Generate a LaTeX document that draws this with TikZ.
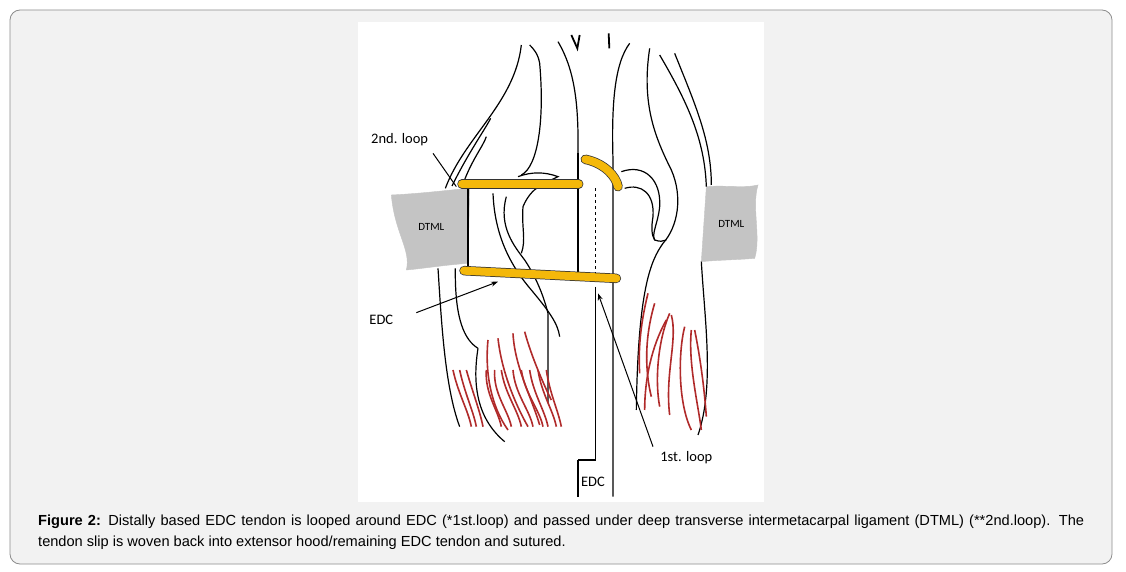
\documentclass[tikz,border=0pt]{standalone}
\usetikzlibrary{arrows.meta}
\usepackage{fontspec}
\setmainfont{Liberation Sans}
\newfontfamily\lblfont{Carlito}
\definecolor{tyel}{HTML}{F4B80A}
\definecolor{tred}{HTML}{B02A2A}
\definecolor{dgrey}{HTML}{C4C4C4}
\begin{document}
\begin{tikzpicture}[x=1pt,y=-1pt,
  skin/.style={line width=1.2pt,black},
  strand/.style={line width=1.6pt,tred},
  bar/.style={line width=8pt,tyel,line cap=round},
  barout/.style={line width=9.5pt,black!80,line cap=round},
  lbl/.style={font=\lblfont\fontsize{14.5}{14.5}\selectfont,inner sep=1pt},
  arr/.style={line width=1pt,-{Stealth[length=7pt,width=5pt]}}]
\useasboundingbox (0,0) rectangle (1126,572);
\draw[rounded corners=10pt,fill=black!5,draw=black!45,line width=0.8pt] (10,10) rectangle (1112,564);
\fill[white] (358,22) rectangle (764,502);
\begin{scope}[shift={(358pt,-20pt)},x=0.33333pt,y=-0.33333pt]
% DTML blocks
\filldraw[fill=dgrey,draw=dgrey] (100,525) .. controls (200,520) and (270,510) .. (335,505) -- (330,730) .. controls (260,735) and (200,745) .. (145,750) .. controls (160,690) and (110,640) .. (100,525) -- cycle;
\filldraw[fill=dgrey,draw=dgrey] (1045,500) .. controls (1100,495) and (1160,505) .. (1200,495) .. controls (1180,560) and (1210,650) .. (1190,715) .. controls (1130,720) and (1080,720) .. (1030,725) -- cycle;
% top marks
\draw[line width=1.8pt] (640,45) -- (658,85) -- (665,45);
\draw[line width=1.8pt] (752,40) -- (754,85);
% left finger
\draw[skin] (262,505) .. controls (320,350) and (470,250) .. (490,75);
\draw[skin] (282,498) .. controls (330,400) and (380,330) .. (398,295);
\draw[skin] (312,500) .. controls (340,420) and (375,380) .. (385,350);
\draw[skin] (490,465) .. controls (540,440) and (560,300) .. (545,130) .. controls (540,100) and (525,85) .. (515,75);
\draw[skin] (240,745) .. controls (250,900) and (260,1100) .. (305,1220);
\draw[skin] (292,745) .. controls (290,900) and (320,960) .. (360,985);
\draw[skin] (360,985) .. controls (345,1080) and (350,1190) .. (440,1265);
\draw[skin] (405,520) .. controls (410,650) and (460,740) .. (520,810) .. controls (570,870) and (600,910) .. (605,950);
\draw[skin] (445,530) .. controls (420,620) and (470,680) .. (500,720) .. controls (540,780) and (560,840) .. (570,880) -- (570,1150);
\draw[skin] (480,470) .. controls (520,455) and (560,455) .. (600,470) .. controls (560,490) and (520,500) .. (495,560) .. controls (490,620) and (505,660) .. (490,700);
\draw[skin] (330,505) -- (330,740);
% centre finger
\draw[skin] (600,65) .. controls (650,150) and (662,250) .. (660,400);
\draw[skin] (660,400) -- (660,760);
\draw[skin] (660,1320) -- (660,1430);
\draw[skin] (712,800) -- (712,1320) -- (660,1320);
\draw[skin,dashed,line width=1.3pt] (712,505) -- (712,760);
\draw[skin] (815,70) .. controls (770,130) and (760,250) .. (765,420) -- (765,1430);
% right finger
\draw[skin] (875,85) .. controls (850,250) and (890,350) .. (940,450) .. controls (975,530) and (960,620) .. (915,670) .. controls (880,720) and (840,800) .. (835,1170);
\draw[skin] (905,105) .. controls (990,250) and (1040,360) .. (1045,500);
\draw[skin] (950,100) .. controls (1010,250) and (1060,360) .. (1060,495);
\draw[skin] (1030,725) .. controls (1040,900) and (1070,1100) .. (1020,1245);
\draw[skin] (790,455) .. controls (860,430) and (910,480) .. (905,560) .. controls (900,610) and (880,640) .. (890,660) .. controls (905,665) and (915,665) .. (925,660);
\draw[skin] (800,505) .. controls (850,490) and (890,520) .. (885,590) .. controls (880,620) and (880,645) .. (890,660);
% yellow loops
\draw[barout] (312,492) -- (662,492);
\draw[bar] (312,492) -- (662,492);
\draw[line width=9.5pt,black!80,line cap=round] (682,418) .. controls (740,430) and (775,470) .. (780,500);
\draw[line width=8pt,tyel,line cap=round] (682,418) .. controls (740,430) and (775,470) .. (780,500);
\draw[barout] (318,752) -- (775,775);
\draw[bar] (318,752) -- (775,775);
\draw[black!80,line width=1pt] (660,505) -- (330,505);
% red strands left
\foreach \a/\b/\c in {285/300/330,305/320/345,325/345/365,385/380/420,410/405/450,430/440/480,465/470/515,490/500/545,515/525/560,540/550/585,565/575/600}{
  \draw[strand] (\a,1050) .. controls (\b,1120) and (\c,1170) .. (\c+10,1220);}
\draw[strand] (390,960) .. controls (380,1060) and (400,1160) .. (450,1230);
\draw[strand] (420,955) .. controls (430,1050) and (470,1150) .. (510,1220);
\draw[strand] (465,940) .. controls (470,1040) and (520,1130) .. (545,1215);
\draw[strand] (500,935) .. controls (520,1010) and (560,1100) .. (580,1140);
% red strands right
\draw[strand] (870,820) .. controls (850,900) and (840,980) .. (845,1060);
\draw[strand] (890,850) .. controls (860,950) and (860,1050) .. (880,1130);
\draw[strand] (935,880) .. controls (900,960) and (890,1080) .. (905,1160);
\draw[strand] (940,885) .. controls (960,960) and (920,1060) .. (935,1185);
\draw[strand] (980,920) .. controls (960,1000) and (960,1150) .. (1000,1230);
\draw[strand] (1000,930) .. controls (990,1030) and (1020,1150) .. (1030,1230);
\draw[strand] (925,900) .. controls (880,980) and (860,1080) .. (860,1170);
\draw[strand] (1010,930) .. controls (1030,1030) and (1040,1120) .. (1045,1190);
% labels
\node[lbl] (l2) at (125,360) {2nd. loop};
\node[lbl] (le) at (70,900) {EDC};
\node[lbl] (l1) at (985,1312) {1st. loop};
\node[lbl] (le2) at (705,1385) {EDC};
\node[lbl,font=\lblfont\fontsize{11}{11}\selectfont] (dl) at (220,620) {DTML};
\node[lbl,font=\lblfont\fontsize{11}{11}\selectfont] (dr) at (1120,612) {DTML};
\coordinate (t2) at (295,500);
\coordinate (te) at (420,785);
\coordinate (t1) at (720,820);
\draw[line width=1pt] (225,400) -- (t2);
\draw[arr] (175,878) -- (te);
\draw[arr] (885,1280) -- (t1);
\end{scope}
\node[text width=1046pt,align=justify,font=\fontsize{14.6}{21}\selectfont,inner sep=0pt,anchor=north west] (cap) at (38,515)
{\textbf{Figure 2:} Distally based EDC tendon is looped around EDC (*1st.loop) and passed under deep transverse intermetacarpal ligament (DTML) (**2nd.loop). The tendon slip is woven back into extensor hood/remaining EDC tendon and sutured.};
\end{tikzpicture}
\end{document}
